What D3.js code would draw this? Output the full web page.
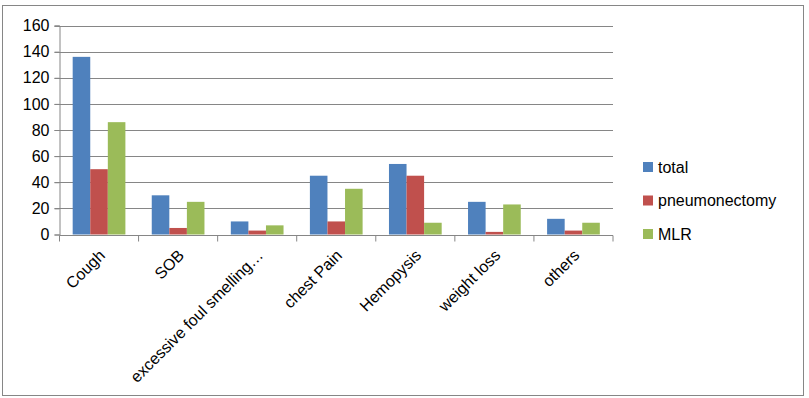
<!DOCTYPE html>
<html lang="en">
<head>
    <meta charset="UTF-8">
    <title>Symptoms</title>
    <script src="https://cdn.jsdelivr.net/npm/d3@7"></script>
    <style>
        body { margin: 0; background: #fff; }
        text { font-family: "Liberation Sans", Arial, sans-serif; fill: #000; }
    </style>
</head>
<body>
    <div id="chart"></div>
    <script>
        // data
        const categories = ["Cough", "SOB", "excessive foul smelling…", "chest Pain", "Hemopysis", "weight loss", "others"];
        const seriesNames = ["total", "pneumonectomy", "MLR"];
        const total = [136, 30, 10, 45, 54, 25, 12];
        const pneumonectomy = [50, 5, 3, 10, 45, 2, 3];
        const mlr = [86, 25, 7, 35, 9, 23, 9];
        const yTicks = [0, 20, 40, 60, 80, 100, 120, 140, 160];
        const colors = ["#4F81BD", "#C0504D", "#9BBB59"];

        const seriesValues = [total, pneumonectomy, mlr];

        const width = 809, height = 398;
        const plot = { left: 59.5, right: 613, top: 25.5, bottom: 234.5 };

        const svg = d3.select("#chart")
            .append("svg")
            .attr("width", width)
            .attr("height", height);

        // outer frame
        svg.append("rect")
            .attr("x", 2.5).attr("y", 5.5)
            .attr("width", 801).attr("height", 390)
            .attr("fill", "none")
            .attr("stroke", "#868686");

        const x = d3.scaleBand()
            .domain(categories)
            .range([plot.left, plot.right])
            .paddingInner(0).paddingOuter(0);

        // gap width 150% like excel
        const inner = d3.scaleBand()
            .domain(seriesNames)
            .range([0, x.bandwidth()])
            .paddingOuter(0.75).paddingInner(0);

        const y = d3.scaleLinear()
            .domain([0, 160])
            .range([plot.bottom, plot.top]);

        // gridlines
        svg.append("g")
            .selectAll("line")
            .data(yTicks.slice(1))
            .enter()
            .append("line")
            .attr("x1", plot.left - 5).attr("x2", plot.right)
            .attr("y1", d => Math.round(y(d)) + 0.5)
            .attr("y2", d => Math.round(y(d)) + 0.5)
            .attr("stroke", "#868686");

        // y axis
        const yAxis = svg.append("g")
            .attr("transform", `translate(${plot.left},0)`)
            .call(d3.axisLeft(y).tickValues(yTicks).tickSize(5).tickPadding(5));
        yAxis.select(".domain").attr("stroke", "#868686");
        yAxis.selectAll(".tick line").attr("stroke", "#868686");
        yAxis.selectAll(".tick text")
            .attr("font-size", 16)
            .attr("font-family", "Liberation Sans, Arial, sans-serif")
            .attr("fill", "#000");

        // bars
        seriesNames.forEach((name, i) => {
            svg.append("g")
                .selectAll("rect")
                .data(seriesValues[i])
                .enter()
                .append("rect")
                .attr("x", (d, j) => x(categories[j]) + inner(name))
                .attr("y", d => y(d))
                .attr("width", inner.bandwidth())
                .attr("height", d => y(0) - y(d))
                .attr("fill", colors[i]);
        });

        // x axis
        const xAxis = svg.append("g")
            .attr("transform", `translate(0,${Math.round(y(0)) + 0.5})`);
        xAxis.append("line")
            .attr("x1", plot.left).attr("x2", plot.right)
            .attr("stroke", "#868686");
        xAxis.selectAll(".sep")
            .data(categories.concat(["end"]))
            .enter()
            .append("line")
            .attr("x1", (d, i) => plot.left + i * x.bandwidth())
            .attr("x2", (d, i) => plot.left + i * x.bandwidth())
            .attr("y1", 0).attr("y2", 6)
            .attr("stroke", "#868686");
        xAxis.selectAll(".lbl")
            .data(categories)
            .enter()
            .append("text")
            .attr("transform", d => `translate(${x(d) + x.bandwidth() / 2 - 1},13) rotate(-45)`)
            .attr("text-anchor", "end")
            .attr("dy", "0.7em")
            .attr("font-size", 16)
            .text(d => d);

        // legend
        const legend = svg.append("g")
            .attr("transform", "translate(643,167)");
        seriesNames.forEach((name, i) => {
            const row = legend.append("g")
                .attr("transform", `translate(0,${i * 33.5})`);
            row.append("rect")
                .attr("x", 0).attr("y", -5)
                .attr("width", 10).attr("height", 10)
                .attr("fill", colors[i]);
            row.append("text")
                .attr("x", 15).attr("y", 0)
                .attr("dy", "0.35em")
                .attr("font-size", 16)
                .text(name);
        });
    </script>
</body>
</html>
